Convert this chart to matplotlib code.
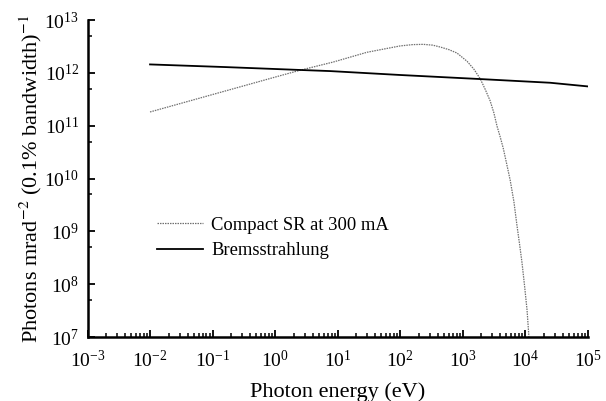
import matplotlib
matplotlib.use("Agg")
import matplotlib.pyplot as plt
from matplotlib.ticker import LogLocator, NullFormatter
import numpy as np

# Data (log10 values)
sr_log_energy = [-2.0, -1.0, 0.0, 0.4, 0.93, 1.47, 2.0, 2.2, 2.37, 2.52, 2.64, 2.78,
                 2.91, 3.07, 3.18, 3.28, 3.36, 3.44, 3.50, 3.55, 3.60, 3.65, 3.70, 3.76,
                 3.82, 3.87, 3.91, 3.95, 3.99, 4.03, 4.06]
sr_log_flux = [11.26, 11.59, 11.92, 12.05, 12.205, 12.39, 12.51, 12.535, 12.54, 12.525, 12.49, 12.44,
               12.375, 12.22, 12.07, 11.89, 11.69, 11.47, 11.24, 10.99, 10.79, 10.57, 10.30, 9.97,
               9.56, 9.10, 8.76, 8.40, 7.97, 7.51, 7.0]

brems_log_energy = [-2.0, -0.8, 0.4, 0.88, 2.0, 3.28, 4.4, 5.0]
brems_log_flux = [12.16, 12.11, 12.055, 12.034, 11.96, 11.883, 11.813, 11.744]

xlim = (1e-3, 1e5)
ylim = (1e7, 1e13)

plt.rcParams['font.family'] = ['Liberation Serif', 'DejaVu Serif']
plt.rcParams['mathtext.fontset'] = 'stix'

fig = plt.figure(figsize=(6.06, 4.01), dpi=100)
ax = fig.add_axes([0.1444, 0.1596, 0.8254, 0.7904])

sr_E = 10 ** np.array(sr_log_energy)
sr_F = 10 ** np.array(sr_log_flux)
br_E = 10 ** np.array(brems_log_energy)
br_F = 10 ** np.array(brems_log_flux)

ax.plot(sr_E, sr_F, color='#707070', lw=0.9, linestyle=(0, (1.2, 0.8)),
        label='Compact SR at 300 mA')
ax.plot(br_E, br_F, color='black', lw=1.3, label='Bremsstrahlung')

ax.set_xscale('log')
ax.set_yscale('log')
ax.set_xlim(*xlim)
ax.set_ylim(*ylim)

ax.spines['top'].set_visible(False)
ax.spines['right'].set_visible(False)
ax.spines['left'].set_linewidth(1.8)
ax.spines['bottom'].set_linewidth(1.8)

ax.xaxis.set_major_locator(LogLocator(base=10, numticks=20))
ax.xaxis.set_minor_locator(LogLocator(base=10, subs=np.arange(2, 10), numticks=100))
ax.xaxis.set_minor_formatter(NullFormatter())
ax.yaxis.set_major_locator(LogLocator(base=10, numticks=20))
ax.yaxis.set_minor_locator(LogLocator(base=10, subs=[5.0], numticks=100))
ax.yaxis.set_minor_formatter(NullFormatter())

ax.tick_params(which='major', direction='in', length=5, width=1.3, labelsize=14)
ax.tick_params(which='minor', direction='in', length=3, width=1.1)
ax.tick_params(axis='x', which='major', pad=9)
ax.tick_params(axis='y', which='major', pad=6)

ax.set_xlabel('Photon energy (eV)', fontsize=16, labelpad=8)
ax.set_ylabel(r'Photons mrad$^{-2}$ (0.1% bandwidth)$^{-1}$', fontsize=16, labelpad=0)

leg = ax.legend(loc='upper left', bbox_to_anchor=(0.124, 0.403), frameon=False,
                fontsize=13.4, handlelength=2.47, handletextpad=0.43,
                labelspacing=0.45, borderaxespad=0)

fig.savefig('out.png', dpi=100)
